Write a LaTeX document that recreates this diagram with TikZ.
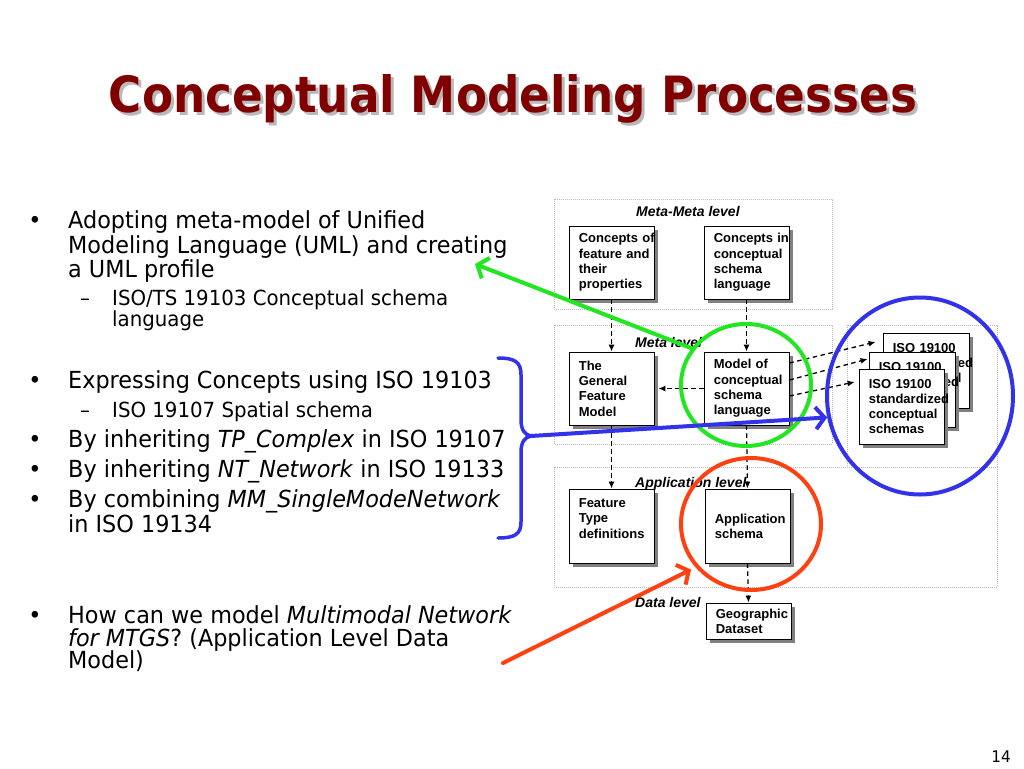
\documentclass[tikz,border=0pt]{standalone}
\usepackage{fontspec}
\setmainfont{DejaVu Sans}[FakeStretch=0.95]
\newfontfamily\titlefont{DejaVu Sans}[FakeStretch=0.905]
\newfontfamily\arialfont{Liberation Sans}
\usetikzlibrary{arrows.meta,shapes.geometric,shadows}
\definecolor{titlered}{RGB}{128,0,0}
\definecolor{anngreen}{RGB}{34,230,34}
\definecolor{annblue}{RGB}{50,50,235}
\definecolor{annred}{RGB}{255,64,16}
\tikzset{
  lvlbox/.style={draw=gray!55, line width=0.6pt, dash pattern=on 0.7pt off 1.3pt},
  bx/.style={draw=black, line width=0.8pt, fill=white, minimum width=85pt, minimum height=73pt, inner sep=0pt,
    drop shadow={shadow xshift=4pt, shadow yshift=-4pt, fill=black!50, opacity=1}},
  bxtext/.style={font=\arialfont\bfseries\fontsize{13}{15.3}\selectfont, text width=90pt, align=left, inner sep=0pt, anchor=west},
  lvltext/.style={font=\arialfont\bfseries\itshape\fontsize{14}{16}\selectfont, inner sep=0pt, anchor=base west},
  dashar/.style={draw=black, line width=1.3pt, dash pattern=on 4.5pt off 3.5pt, -{Latex[length=7pt,width=6pt]}},
  bodytxt/.style={font=\fontsize{23.5}{28}\selectfont, inner sep=0pt, anchor=base west},
  subtxt/.style={font=\fontsize{20.8}{24}\selectfont, inner sep=0pt, anchor=base west},
  bultxt/.style={font=\fontsize{23.5}{28}\selectfont, inner sep=0pt, anchor=base},
  dashtxt/.style={font=\fontsize{20.8}{24}\selectfont, inner sep=0pt, anchor=base},
  annell/.style={ellipse, line width=4pt, inner sep=0pt},
  annline/.style={line width=4pt, line cap=round, -{Straight Barb[length=9pt,width=22pt]}},
  titletext/.style={font=\titlefont\bfseries\fontsize{50}{60}\selectfont, inner sep=0pt, anchor=base},
}
\begin{document}
\begin{tikzpicture}[x=1pt,y=-1pt]
\fill[white] (0,0) rectangle (1024,768);
\useasboundingbox (0,0) rectangle (1024,768);

% title
\node[titletext, text=gray!55] (titlesh) at (516,115) {Conceptual Modeling Processes};
\node[titletext, text=titlered] (title) at (513,112) {Conceptual Modeling Processes};

% level boxes
\draw[lvlbox] (554,199) rectangle (832,309);
\draw[lvlbox] (554,325) rectangle (832,444);
\draw[lvlbox] (554,467) rectangle (997,587);
\draw[lvlbox, fill=white] (847,325) rectangle (997,467);

\node[lvltext] (lmm) at (636,216) {Meta-Meta level};
\node[lvltext] (lm) at (635,347) {Meta level};
\node[lvltext] (la) at (635,487) {Application level};
\node[lvltext] (ld) at (635,607) {Data level};

% boxes
\node[bx] (b1) at (611.5,262.5) {};
\node[bxtext] (b1t) at ([xshift=10pt]b1.west) {Concepts of\\feature and\\their\\properties};
\node[bx] (b2) at (746.5,262.5) {};
\node[bxtext] (b2t) at ([xshift=10pt]b2.west) {Concepts in\\conceptual\\schema\\language};
\node[bx] (gfm) at (611.5,388.5) {};
\node[bxtext] (gfmt) at ([xshift=10pt]gfm.west) {The\\General\\Feature\\Model};
\node[bx] (mcs) at (746.5,388.5) {};
\node[bxtext] (mcst) at ([xshift=10pt]mcs.west) {Model of\\conceptual\\schema\\language};
\node[bx, minimum height=74pt] (ftd) at (611.5,526) {};
\node[bxtext] (ftdt) at ([xshift=10pt]ftd.west) {Feature\\Type\\definitions\\\mbox{}};
\node[bx, minimum height=74pt] (aps) at (747.5,526) {};
\node[bxtext] (apst) at ([xshift=10pt]aps.west) {Application\\schema};
\node[bx, minimum height=36pt] (geo) at (748.5,621) {};
\node[bxtext] (geot) at ([xshift=10pt]geo.west) {Geographic\\Dataset};

% ISO stacked boxes
\node[bx, minimum width=86pt, minimum height=75pt] (isoA) at (926,370.5) {};
\node[bxtext] (isoAt) at ([xshift=10pt]isoA.west) {ISO 19100\\standardized\\conceptual\\schemas};
\node[bx, minimum width=86pt, minimum height=75pt] (isoB) at (912,389.5) {};
\node[bxtext] (isoBt) at ([xshift=10pt]isoB.west) {ISO 19100\\standardized\\conceptual\\schemas};
\node[bx, minimum width=85pt, minimum height=75pt] (isoC) at (901.5,406.5) {};
\node[bxtext] (isoCt) at ([xshift=10pt]isoC.west) {ISO 19100\\standardized\\conceptual\\schemas};

% dashed arrows
\draw[dashar] (b1) -- (gfm);
\draw[dashar] (b2) -- (mcs);
\draw[dashar] (gfm) -- (ftd);
\draw[dashar] (mcs.south) -- (aps.north);
\draw[dashar] (aps.south) -- (geo.north);
\draw[dashar] (mcs.west) -- ([xshift=4pt]gfm.east);
\draw[dashar] ([yshift=25.5pt]mcs.east) -- ([xshift=-7pt,yshift=28.5pt]isoA.west);
\draw[dashar] ([yshift=8.5pt]mcs.east) -- ([xshift=-1pt,yshift=30.5pt]isoB.west);
\draw[dashar] ([yshift=-7.5pt]mcs.east) -- ([xshift=-4pt,yshift=24.5pt]isoC.west);

% left text
\node[bultxt] (u1) at (35,228) {•};
\node[bodytxt] (t1) at (68,228) {Adopting meta-model of Unified};
\node[bodytxt] (t2) at (68,253) {Modeling Language (UML) and creating};
\node[bodytxt] (t3) at (68,277) {a UML profile};
\node[dashtxt] (d1) at (85,305) {–};
\node[subtxt] (s1) at (112,305) {ISO/TS 19103 Conceptual schema};
\node[subtxt] (s2) at (112,326) {language};
\node[bultxt] (u2) at (35,388) {•};
\node[bodytxt] (t4) at (68,388) {Expressing Concepts using ISO 19103};
\node[dashtxt] (d2) at (85,417) {–};
\node[subtxt] (s3) at (112,417) {ISO 19107 Spatial schema};
\node[bultxt] (u3) at (35,447) {•};
\node[bodytxt] (t5) at (68,447) {By inheriting \textit{TP\_Complex} in ISO 19107};
\node[bultxt] (u4) at (35,477) {•};
\node[bodytxt] (t6) at (68,477) {By inheriting \textit{NT\_Network} in ISO 19133};
\node[bultxt] (u5) at (35,507) {•};
\node[bodytxt] (t7) at (68,507) {By combining \textit{MM\_SingleModeNetwork}};
\node[bodytxt] (t8) at (68,532) {in ISO 19134};
\node[bultxt] (u6) at (35,623) {•};
\node[bodytxt] (t9) at (68,623) {How can we model \textit{Multimodal Network}};
\node[bodytxt] (t10) at (68,646) {\textit{for MTGS}? (Application Level Data};
\node[bodytxt] (t11) at (68,668) {Model)};

\node[font=\fontsize{16}{19}\selectfont, inner sep=0pt] (pg) at (1001,757) {14};

% annotations
\node[annell, draw=anngreen, minimum width=130pt, minimum height=122pt] (gc) at (746,385) {};
\node[annell, draw=annblue, minimum width=186pt, minimum height=197pt] (bc) at (920,396) {};
\node[annell, draw=annred, minimum width=140pt, minimum height=132pt] (rc) at (751,524) {};

\coordinate (gtip) at (475,264);
\draw[annline, anngreen] (gc.146) -- (gtip);

\coordinate (brtip) at (531,436);
\draw[annblue, line width=3.5pt, line cap=round] (498,358) .. controls (515,358) and (521,362) .. (521,375) -- (521,420) .. controls (521,430) and (525,435) .. (brtip) .. controls (525,437) and (521,442) .. (521,452) -- (521,522) .. controls (521,534) and (515,538) .. (498,538);
\draw[annline, annblue] (brtip) -- (bc.193);

\coordinate (rstart) at (503,663);
\draw[annline, annred, shorten >=5pt] (rstart) -- (rc.218);
\end{tikzpicture}
\end{document}
